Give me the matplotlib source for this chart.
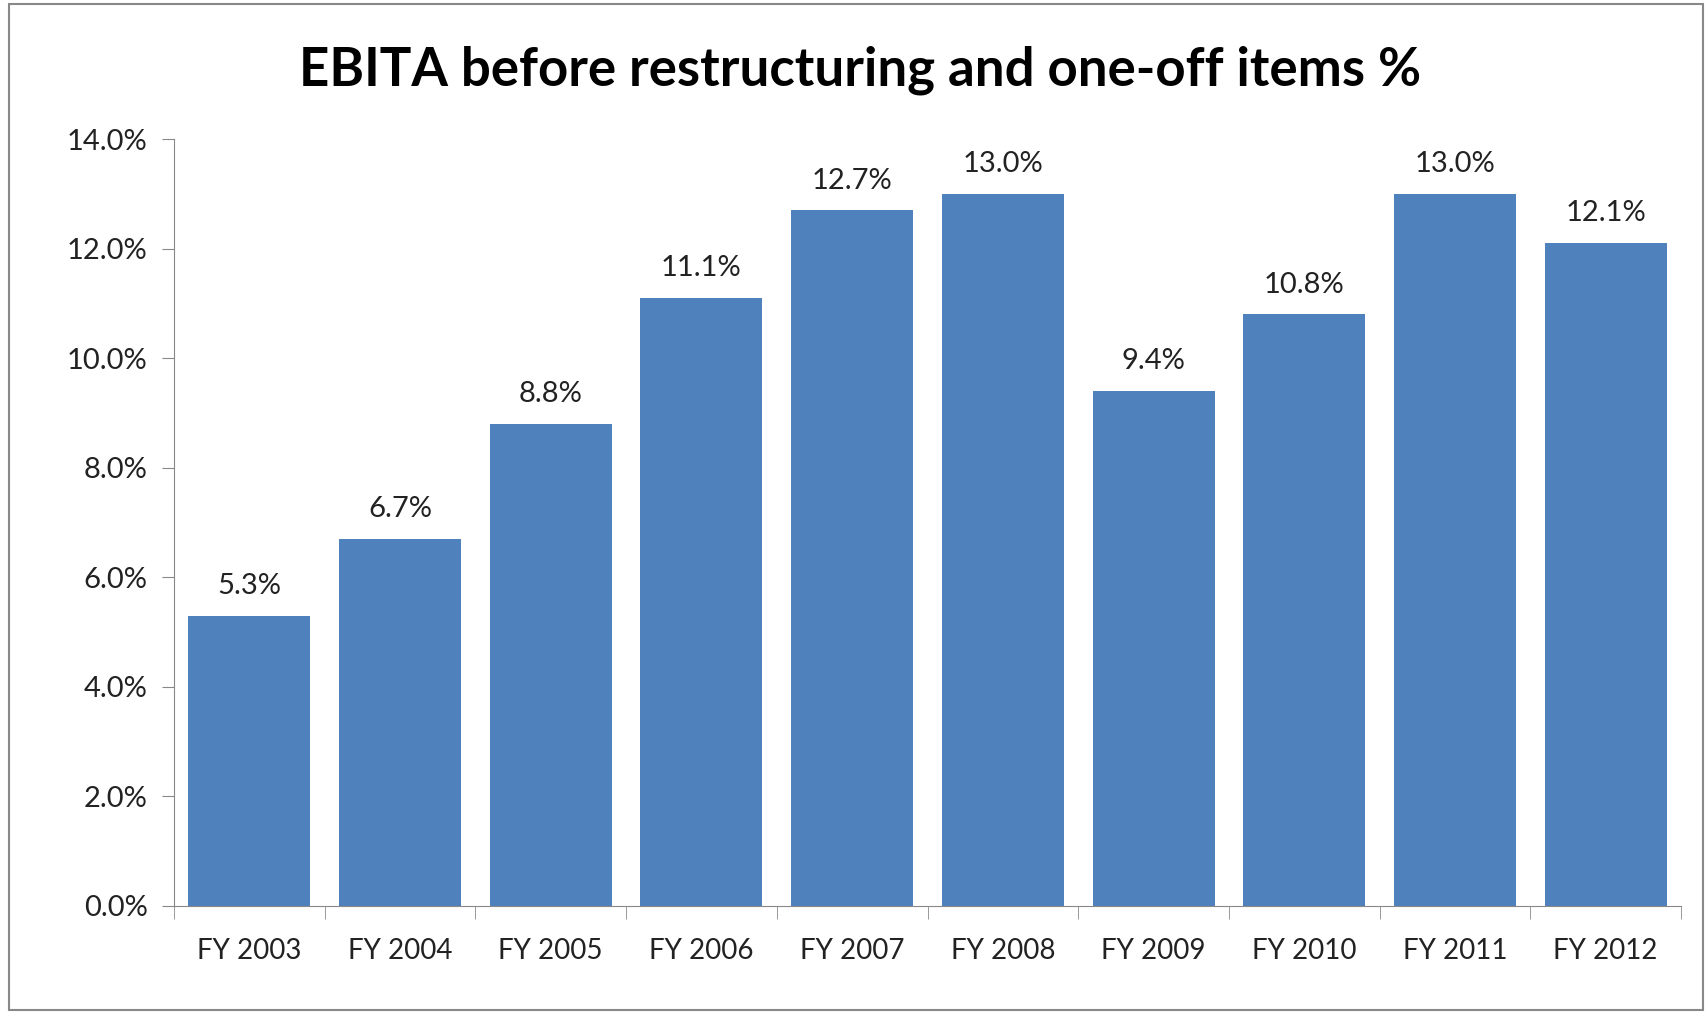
import matplotlib as mpl
mpl.use('Agg')
import matplotlib.pyplot as plt
from matplotlib.patches import Rectangle
import numpy as np

years = ["FY 2003", "FY 2004", "FY 2005", "FY 2006", "FY 2007",
         "FY 2008", "FY 2009", "FY 2010", "FY 2011", "FY 2012"]
ebita = [5.3, 6.7, 8.8, 11.1, 12.7, 13.0, 9.4, 10.8, 13.0, 12.1]
yticks = [0, 2, 4, 6, 8, 10, 12, 14]

plt.rcParams['font.family'] = ['Lato', 'DejaVu Sans']

fig = plt.figure(figsize=(17.06, 10.14), dpi=100)
ax = fig.add_axes([174/1706, 1 - 906/1014, (1681-174)/1706, (906-139)/1014])

x = np.arange(len(years))
bars = ax.bar(x, ebita, width=0.81, color='#4F81BD')
for xi, v in zip(x, ebita):
    ax.annotate('%.1f%%' % v, (xi, v), xytext=(0, 12), textcoords='offset points',
                ha='center', va='bottom', fontsize=21, color='#222222')

ax.set_xlim(-0.5, len(years) - 0.5)
ax.set_ylim(0, 14)
ax.set_yticks(yticks)
ax.set_yticklabels(['%.1f%%' % t for t in yticks])
ax.set_xticks(x)
ax.set_xticklabels(years)
ax.set_xticks(np.arange(-0.5, len(years)), minor=True)
ax.tick_params(axis='x', which='major', length=0, pad=23, labelsize=20, labelcolor='#222222')
ax.tick_params(axis='x', which='minor', length=9, color='#888888', direction='out')
ax.tick_params(axis='y', length=9, color='#888888', pad=10, labelsize=21, labelcolor='#222222')

for s in ['top', 'right']:
    ax.spines[s].set_visible(False)
ax.spines['left'].set_color('#888888')
ax.spines['bottom'].set_color('#888888')

fig.text(860/1706, 1 - 70/1014, 'EBITA before restructuring and one-off items %',
         ha='center', va='center', fontsize=38, fontweight='bold', color='black')

fig.patches.append(Rectangle((9/1706, 4/1014), (1703-9)/1706, (1010-4)/1014,
                             transform=fig.transFigure, fill=False,
                             edgecolor='#888888', linewidth=1.5))

fig.savefig('out.png', dpi=100)
